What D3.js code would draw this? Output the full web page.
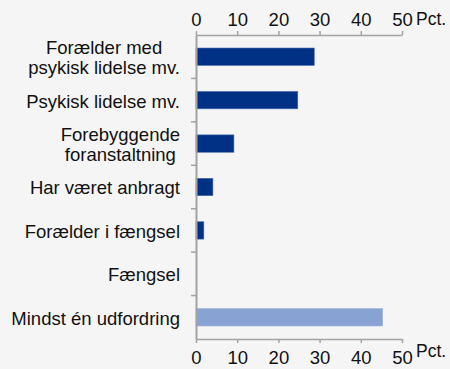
<!DOCTYPE html>
<html>
<head>
<meta charset="utf-8">
<script src="https://cdn.jsdelivr.net/npm/d3@7/dist/d3.min.js"></script>
<style>
  html, body { margin: 0; padding: 0; background: #f5f5f5; }
  svg { display: block; }
  text { font-family: "Liberation Sans", Arial, sans-serif; fill: #111; }
</style>
</head>
<body>
<svg id="chart" width="450" height="369"></svg>
<script>
// Category labels (line breaks with "\n")
const categories = [
  "Forælder med\npsykisk lidelse mv.",
  "Psykisk lidelse mv.",
  "Forebyggende\nforanstaltning",
  "Har været anbragt",
  "Forælder i fængsel",
  "Fængsel",
  "Mindst én udfordring"
];
// Share in percent
const values = [28.7, 24.7, 9.2, 4.1, 1.9, 0, 45.3];
// Highlight flag for the summary row
const isTotal = [false, false, false, false, false, false, true];
const tickValues = [0, 10, 20, 30, 40, 50];
const unitLabel = "Pct.";

(function draw() {
  const svg = d3.select("#chart");
  const plotLeft = 196, plotRight = 402, plotTop = 35, plotBottom = 339;
  const labelSize = 18.5;

  const x = d3.scaleLinear().domain([0, 50]).range([plotLeft, plotRight]);
  const y = d3.scaleBand().domain(categories).range([plotTop, plotBottom])
    .paddingInner(0.6).paddingOuter(0.3);

  const axisColor = "#a3a3a3";

  // Bars
  svg.append("g").selectAll("rect")
    .data(categories)
    .join("rect")
    .attr("x", x(0))
    .attr("y", d => y(d))
    .attr("width", (d, i) => Math.max(0, x(values[i]) - x(0)))
    .attr("height", y.bandwidth())
    .attr("fill", (d, i) => isTotal[i] ? "#88a3d3" : "#013185")
    .attr("stroke", (d, i) => isTotal[i] ? "#9bb1da" : "#4a6aaa")
    .attr("stroke-width", 0.6);

  // Top and bottom value axes
  const topAxis = d3.axisTop(x).tickValues(tickValues).tickSize(4).tickSizeOuter(0).tickPadding(5);
  const gTop = svg.append("g").attr("transform", `translate(0,${plotTop})`).call(topAxis);
  const botAxis = d3.axisBottom(x).tickValues(tickValues).tickSize(4).tickSizeOuter(0).tickPadding(8);
  const gBot = svg.append("g").attr("transform", `translate(0,${plotBottom})`).call(botAxis);

  [gTop, gBot].forEach(g => {
    g.select(".domain").attr("stroke", axisColor).attr("stroke-width", 1.5);
    g.selectAll(".tick line").attr("stroke", axisColor).attr("stroke-width", 1.5);
    g.selectAll(".tick text")
      .attr("font-size", labelSize)
      .attr("fill", "#111")
      .attr("font-family", "Liberation Sans, Arial, sans-serif");
  });

  // Unit labels
  svg.append("text").attr("x", 416).attr("y", 25).attr("font-size", 17.5).text(unitLabel);
  svg.append("text").attr("x", 416).attr("y", 357).attr("font-size", 17.5).text(unitLabel);

  // Left category axis
  const leftAxis = d3.axisLeft(y).tickSize(0).tickFormat("");
  const gLeft = svg.append("g").attr("transform", `translate(${plotLeft},0)`).call(leftAxis);
  gLeft.select(".domain").attr("stroke", axisColor).attr("stroke-width", 2);

  // Separator ticks between categories
  const step = y.step();
  const boundaries = categories.slice(1).map(c => y(c) - y.paddingInner() * step / 2);
  svg.append("g").selectAll("line")
    .data(boundaries)
    .join("line")
    .attr("x1", plotLeft - 5).attr("x2", plotLeft)
    .attr("y1", d => d).attr("y2", d => d)
    .attr("stroke", axisColor).attr("stroke-width", 1.5);

  // Category labels: block right-aligned, lines centred within block
  const lineH = 20.5;
  const labelRight = 180;
  categories.forEach(c => {
    const lines = c.split("\n");
    const cy = y(c) + y.bandwidth() / 2 + 1;
    const widths = lines.map(l => {
      const s = svg.append("text").attr("font-size", labelSize).text(l);
      const w = s.node().getComputedTextLength();
      s.remove();
      return w;
    });
    const cx = labelRight - d3.max(widths) / 2;
    const t = svg.append("text").attr("font-size", labelSize);
    lines.forEach((l, i) => {
      t.append("tspan")
        .attr("x", cx)
        .attr("text-anchor", "middle")
        .attr("y", cy + (i - (lines.length - 1) / 2) * lineH)
        .attr("dy", "0.35em")
        .text(l);
    });
  });
})();
</script>
</body>
</html>
